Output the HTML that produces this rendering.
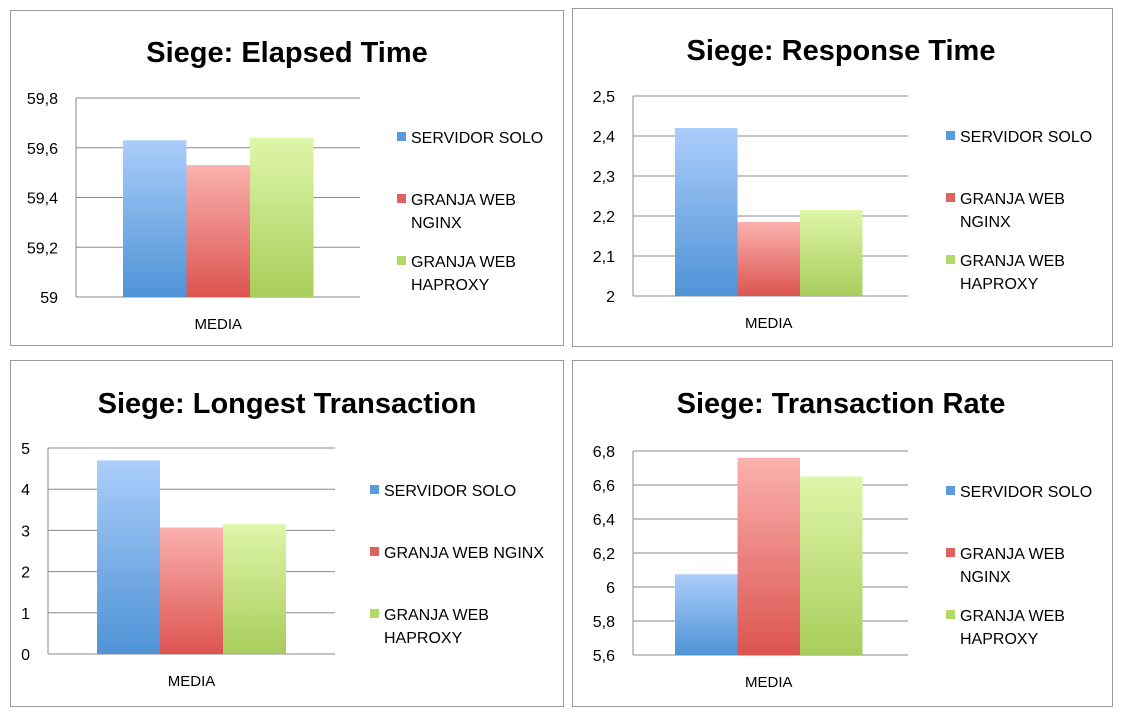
<!DOCTYPE html>
<html><head><meta charset="utf-8"><style>
body{margin:0;background:#fff;width:1124px;height:718px;overflow:hidden;font-family:"Liberation Sans",sans-serif}
svg{position:absolute;left:0;top:0}
</style></head><body>
<svg id="s" width="1124" height="718">
<defs>
<linearGradient id="gb" x1="0" y1="0" x2="0" y2="1"><stop offset="0" stop-color="#abcdfa"/><stop offset="1" stop-color="#4f93d6"/></linearGradient>
<linearGradient id="gr" x1="0" y1="0" x2="0" y2="1"><stop offset="0" stop-color="#fbb1ae"/><stop offset="1" stop-color="#dc5450"/></linearGradient>
<linearGradient id="gg" x1="0" y1="0" x2="0" y2="1"><stop offset="0" stop-color="#def6a8"/><stop offset="1" stop-color="#a8cd5c"/></linearGradient>
</defs>
</svg>
<script>
const seriesNames=[["SERVIDOR SOLO"],["GRANJA WEB","NGINX"],["GRANJA WEB","HAPROXY"]];
const category="MEDIA";
const titles=["Siege: Elapsed Time","Siege: Response Time","Siege: Longest Transaction","Siege: Transaction Rate"];
const elapsedValues=[59.63,59.53,59.64];
const elapsedTicks=[59,59.2,59.4,59.6,59.8];
const responseValues=[2.42,2.185,2.215];
const responseTicks=[2,2.1,2.2,2.3,2.4,2.5];
const longestValues=[4.7,3.07,3.15];
const longestTicks=[0,1,2,3,4,5];
const rateValues=[6.075,6.76,6.65];
const rateTicks=[5.6,5.8,6,6.2,6.4,6.6,6.8];
const NS="http://www.w3.org/2000/svg";
const svg=document.getElementById('s');
function mk(t,a,p){const e=document.createElementNS(NS,t);for(const k in a)e.setAttribute(k,a[k]);(p||svg).appendChild(e);return e;}
const fills=["url(#gb)","url(#gr)","url(#gg)"];
const sq=["#5a9be0","#e0625e","#b2d86a"];
function chart(c){
  const g=mk('g',{});
  
  
  const fr=mk('rect',{x:c.bx+0.5,y:c.by+0.5,width:c.bw,height:c.bh,fill:'#fff',stroke:'#9a9a9a'},g);
  
  
  const t=mk('text',{x:c.tx,y:c.ty,'text-anchor':'middle','font-size':29,'font-weight':'bold',fill:'#000'},g);
  t.textContent=c.title;
  
  
  const lo=c.ticks[0],hi=c.ticks[c.ticks.length-1];
  const y=v=>c.y1-(v-lo)/(hi-lo)*(c.y1-c.y0);
  c.ticks.forEach(v=>{
    const l=mk('line',{x1:c.x0,x2:c.x1,y1:y(v),y2:y(v),stroke:'#8a8a8a','stroke-width':1},g);
    
    
    const tl=mk('text',{x:c.x0-18,y:y(v)+6,'text-anchor':'end','font-size':16,fill:'#000'},g);
    tl.textContent=String(v).replace('.',',');
    
    
  });
  const ax=mk('line',{x1:c.x0,x2:c.x0,y1:c.y0,y2:c.y1,stroke:'#8a8a8a'},g);
  
  
  c.values.forEach((v,i)=>{
    const b=mk('rect',{x:c.barX+i*c.barW,y:y(v),width:c.barW,height:c.y1-y(v),fill:fills[i]},g);
    
    
  });
  const xl=mk('text',{x:c.barX+1.5*c.barW,y:c.y1+32,'text-anchor':'middle','font-size':15,fill:'#000'},g);
  xl.textContent=category;
  
  
  seriesNames.forEach((n,i)=>{
    const ly=c.legY[i];
    const s=mk('rect',{x:c.legX,y:ly-11,width:9,height:9,fill:sq[i]},g);
    
    
    const lines=c.oneLine&&i==1?[n.join(' ')]:n;
    lines.forEach((ln,j)=>{
      const tt=mk('text',{x:c.legX+14,y:ly+j*23,'font-size':16,fill:'#000'},g);
      tt.textContent=ln;
      
      
    });
  });
}
chart({name:'elapsed-time-chart',bx:10,by:10,bw:553,bh:335,tx:287,ty:62,title:titles[0],x0:76,x1:360,y0:98,y1:297,ticks:elapsedTicks,values:elapsedValues,barX:123,barW:63.5,legX:397,legY:[143,205,267]});
chart({name:'response-time-chart',bx:572,by:8,bw:540,bh:338,tx:841,ty:60,title:titles[1],x0:633,x1:908,y0:96,y1:296,ticks:responseTicks,values:responseValues,barX:675,barW:62.5,legX:946,legY:[142,204,266]});
chart({name:'longest-transaction-chart',bx:10,by:360,bw:553,bh:346,tx:287,ty:413,title:titles[2],x0:48,x1:335,y0:448,y1:654,ticks:longestTicks,values:longestValues,barX:97,barW:63,legX:370,legY:[496,558,620],oneLine:true});
chart({name:'transaction-rate-chart',bx:572,by:360,bw:540,bh:346,tx:841,ty:413,title:titles[3],x0:633,x1:908,y0:451,y1:655,ticks:rateTicks,values:rateValues,barX:675,barW:62.5,legX:946,legY:[497,559,621]});
</script>
</body></html>
